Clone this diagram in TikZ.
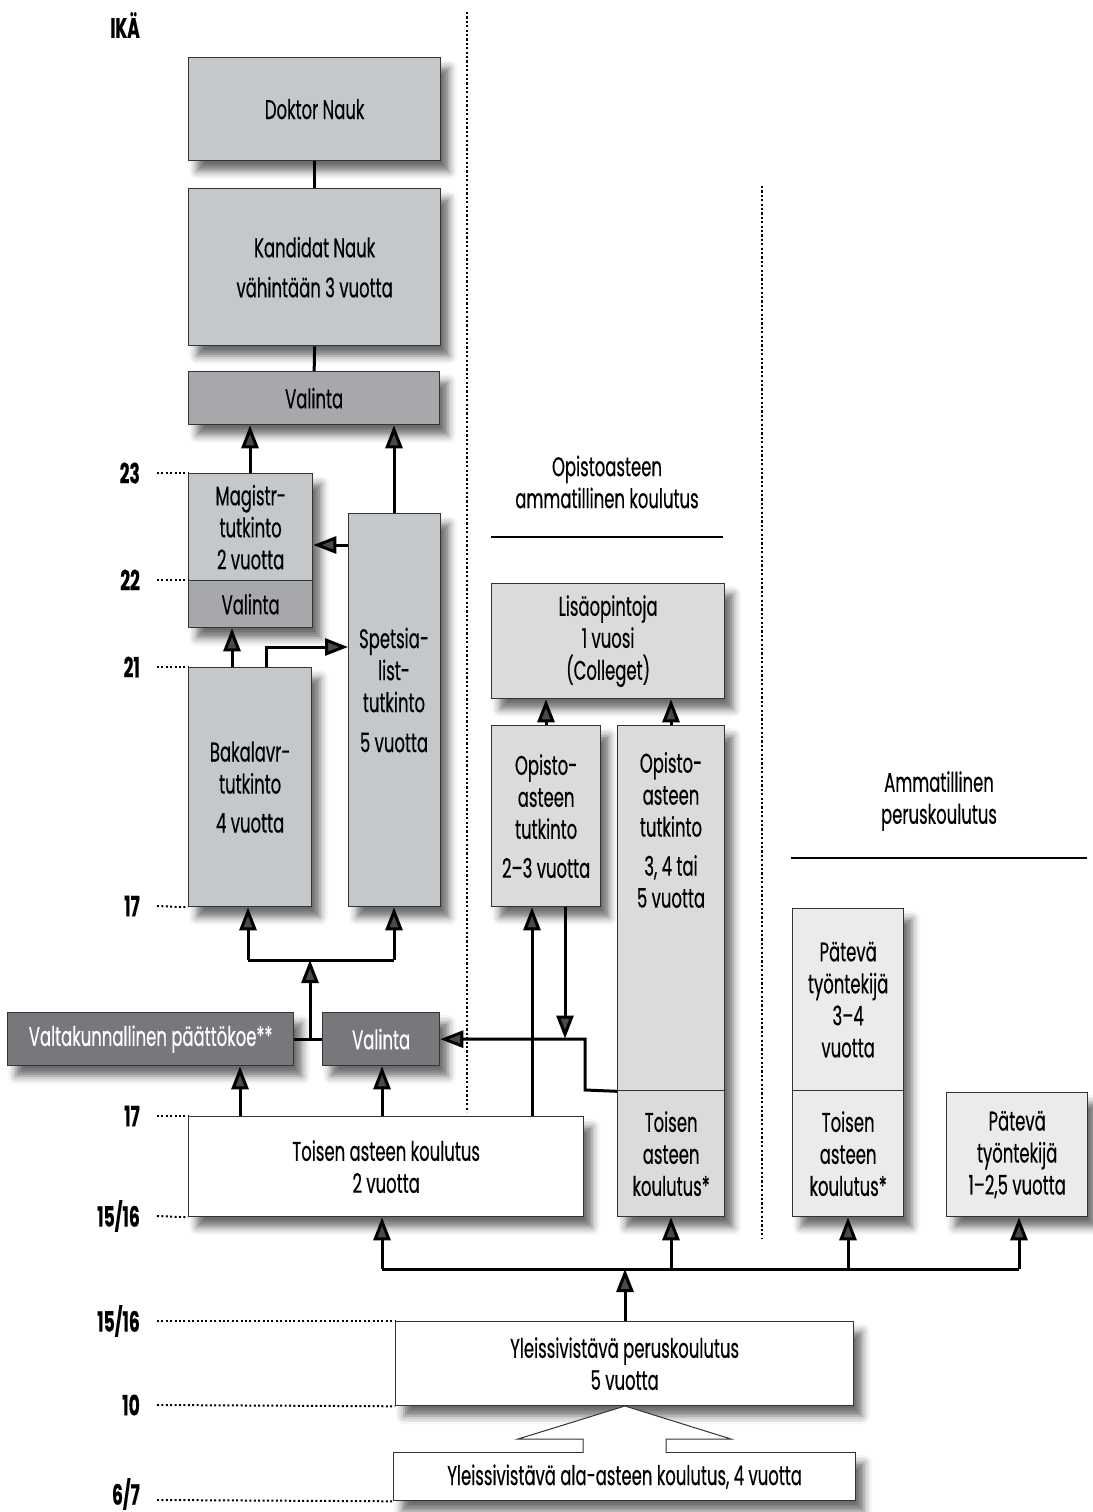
\documentclass[tikz,border=0pt]{standalone}
\usepackage{fontspec}
\setmainfont{Poppins}[FakeStretch=0.61,FakeBold=0.35]
\usetikzlibrary{arrows.meta,shadows.blur}
\definecolor{cA}{HTML}{C5C8CB}
\definecolor{cV}{HTML}{A7A8AB}
\definecolor{cD}{HTML}{77787B}
\definecolor{cL}{HTML}{DADBDC}
\definecolor{cP}{HTML}{EBECEA}
\definecolor{bordc}{HTML}{333333}
\newcommand\boxfont{\fontsize{27}{32}\selectfont}
\newcommand\agefont{\fontsize{28}{32}\selectfont\bfseries}
\newcommand\shd[4]{\path[shad, fill=white] (#1,#2) rectangle (#3,#4);}
\begin{document}
\begin{tikzpicture}[x=1pt,y=-1pt,
  box/.style={draw=bordc, line width=1.3pt, anchor=north west, inner sep=0pt, align=center, font=\boxfont, text=black},
  txt/.style={align=center, font=\boxfont, inner sep=0pt},
  conn/.style={line width=3pt},
  arr/.style={line width=3pt, -{Triangle[width=17pt,length=23pt]}},
  age/.style={anchor=east, font=\agefont, inner sep=0pt},
  leader/.style={line width=2pt, dash pattern=on 2pt off 2.4pt},
  vdot/.style={line width=2.8pt, dash pattern=on 2.2pt off 2.2pt},
  shad/.style={blur shadow={shadow xshift=9pt, shadow yshift=-11pt, shadow blur radius=8pt, shadow opacity=58}}]
\useasboundingbox (0,0) rectangle (1092,1512);

% dotted separators
\draw[vdot] (467,12) -- (467,1112);
\draw[vdot] (762,186) -- (762,1238);
% headings
\node[txt] (hopisto) at (607,482) {Opistoasteen\\ammatillinen koulutus};
\draw[line width=2pt] (491,537) -- (723,537);
\node[txt] (hamm) at (939,801) {Ammatillinen\\peruskoulutus};
\draw[line width=2pt] (791,858) -- (1087,858);

% shadows
\shd{188}{57}{440}{160}
\shd{188}{188}{440}{345}
\shd{188}{371}{439}{424}
\shd{188}{473}{312}{627}
\shd{348}{513}{440}{906}
\shd{188}{667}{311}{906}
\shd{7}{1012}{293}{1065}
\shd{322}{1012}{439}{1065}
\shd{188}{1116}{583}{1216}
\shd{491}{583}{724}{698}
\shd{491}{725}{600}{906}
\shd{617}{725}{724}{1216}
\shd{792}{908}{903}{1216}
\shd{946}{1092}{1087}{1216}
\shd{395}{1321}{853}{1405}
\shd{393}{1452}{855}{1500}

% boxes
\node[box, fill=cA, minimum width=252pt, minimum height=103pt] (doktor) at (188,57) {Doktor Nauk};
\node[box, fill=cA, minimum width=252pt, minimum height=157pt] (kandidat) at (188,188) {Kandidat Nauk\\[8pt]vähintään 3 vuotta};
\node[box, fill=cV, minimum width=251pt, minimum height=53pt] (valintaT) at (188,371) {Valinta};
\node[box, fill=cA, minimum width=124pt, minimum height=107pt] (magistr) at (188,473) {Magistr-\\tutkinto\\2 vuotta};
\node[box, fill=cV, minimum width=124pt, minimum height=47pt] (valintaM) at (188,580) {Valinta};
\node[box, fill=cA, minimum width=92pt, minimum height=393pt] (spets) at (348,513) {};
\node[txt] (spetstxt) at (394,690) {Spetsia-\\list-\\tutkinto\\[8pt]5 vuotta};
\node[box, fill=cA, minimum width=123pt, minimum height=239pt] (bakalavr) at (188,667) {Bakalavr-\\tutkinto\\[7pt]4 vuotta};
\node[box, fill=cD, text=white, minimum width=286pt, minimum height=53pt] (valtak) at (7,1012) {Valtakunnallinen päättökoe**};
\node[box, fill=cD, text=white, minimum width=117pt, minimum height=53pt] (valintaC) at (322,1012) {Valinta};
\node[box, fill=white, minimum width=395pt, minimum height=100pt] (toisen) at (188,1116) {Toisen asteen koulutus\\2 vuotta};
\node[box, fill=cL, minimum width=233pt, minimum height=115pt] (lisa) at (491,583) {Lisäopintoja\\1 vuosi\\(Colleget)};
\node[box, fill=cL, minimum width=109pt, minimum height=181pt] (opisto23) at (491,725) {Opisto-\\asteen\\tutkinto\\[7pt]2–3 vuotta};
\node[box, fill=cL, minimum width=107pt, minimum height=365pt] (opisto35) at (617,725) {};
\node[txt] (opisto35txt) at (671,830) {Opisto-\\asteen\\tutkinto\\[7pt]3, 4 tai\\5 vuotta};
\node[box, fill=cL, minimum width=107pt, minimum height=126pt] (toisenB) at (617,1090) {Toisen\\asteen\\koulutus*};
\node[box, fill=cP, minimum width=111pt, minimum height=182pt] (pateva34) at (792,908) {Pätevä\\työntekijä\\3–4\\vuotta};
\node[box, fill=cP, minimum width=111pt, minimum height=126pt] (toisenC) at (792,1090) {Toisen\\asteen\\koulutus*};
\node[box, fill=cP, minimum width=141pt, minimum height=124pt] (pateva12) at (946,1092) {Pätevä\\työntekijä\\1–2,5 vuotta};
\node[box, fill=white, minimum width=458pt, minimum height=84pt] (perus) at (395,1321) {Yleissivistävä peruskoulutus\\5 vuotta};
\node[box, fill=white, minimum width=462pt, minimum height=48pt] (ala) at (393,1452) {Yleissivistävä ala-asteen koulutus, 4 vuotta};

% hollow arrow
\draw[line width=1pt, draw=bordc, fill=white] (583,1453) -- (583,1439) -- (518,1439) -- (625,1406) -- (731,1439) -- (666,1439) -- (666,1453);

% ages
\node[age] (ika) at (140,25) {IKÄ};
\node[age] (a23) at (140,473) {23};
\node[age] (a22) at (140,580) {22};
\node[age] (a21) at (140,667) {21};
\node[age] (a17a) at (140,906) {17};
\node[age] (a17b) at (140,1116) {17};
\node[age] (a1516a) at (140,1216) {15/16};
\node[age] (a1516b) at (140,1321) {15/16};
\node[age] (a10) at (140,1405) {10};
\node[age] (a67) at (140,1494) {6/7};
\draw[leader] (157,473) -- (magistr.north west);
\draw[leader] (157,580) -- (valintaM.north west);
\draw[leader] (157,667) -- (bakalavr.north west);
\draw[leader] (157,906) -- (bakalavr.south west);
\draw[leader] (157,1116) -- (toisen.north west);
\draw[leader] (157,1216) -- (toisen.south west);
\draw[leader] (157,1321) -- (perus.north west);
\draw[leader] (157,1405) -- (perus.south west);
\draw[leader] (157,1500) -- (ala.south west);

% connectors top
\draw[conn] (doktor.south) -- (kandidat.north);
\draw[conn] (kandidat.south) -- (valintaT.north);
\draw[arr] (250,0 |- magistr.north) -- (250,0 |- valintaT.south);
\draw[arr] (394,0 |- spets.north) -- (394,0 |- valintaT.south);
\draw[arr] (spets.west |- 0,545) -- (magistr.east |- 0,545);
\draw[arr] (232,0 |- bakalavr.north) -- (232,0 |- valintaM.south);
\draw[arr] (266,0 |- bakalavr.north) -- (266,647) -- (spets.west |- 0,647);

% Valtakunnallinen / Valinta
\coordinate (j1) at (310,1038.5);
\coordinate (j2) at (310,960);
\draw[conn] (valtak.east) -- (valintaC.west);
\draw[arr] (j1) -- (j2);
\draw[conn] (248,960) -- (394,960);
\draw[arr] (248,960) -- (248,0 |- bakalavr.south);
\draw[arr] (394,960) -- (394,0 |- spets.south);
\draw[arr] (240,0 |- toisen.north) -- (240,0 |- valtak.south);
\draw[arr] (382,0 |- toisen.north) -- (382,0 |- valintaC.south);

% Opisto connectors
\draw[arr] (532,0 |- toisen.north) -- (532,0 |- opisto23.south);
\draw[arr] (opisto35.south west) -- (585,1090) |- (valintaC.east);
\draw[arr] (565,0 |- opisto23.south) -- (565,1038.5);
\draw[arr] (546,0 |- opisto23.north) -- (546,0 |- lisa.south);
\draw[arr] (671,0 |- opisto35.north) -- (671,0 |- lisa.south);

% bottom branches
\coordinate (j3) at (625,1269);
\draw[arr] (perus.north -| j3) -- (j3);
\draw[conn] (382,1269) -- (1019,1269);
\draw[arr] (382,1269) -- (382,0 |- toisen.south);
\draw[arr] (671,1269) -- (671,0 |- toisenB.south);
\draw[arr] (848,1269) -- (848,0 |- toisenC.south);
\draw[arr] (1019,1269) -- (1019,0 |- pateva12.south);
\end{tikzpicture}
\end{document}
